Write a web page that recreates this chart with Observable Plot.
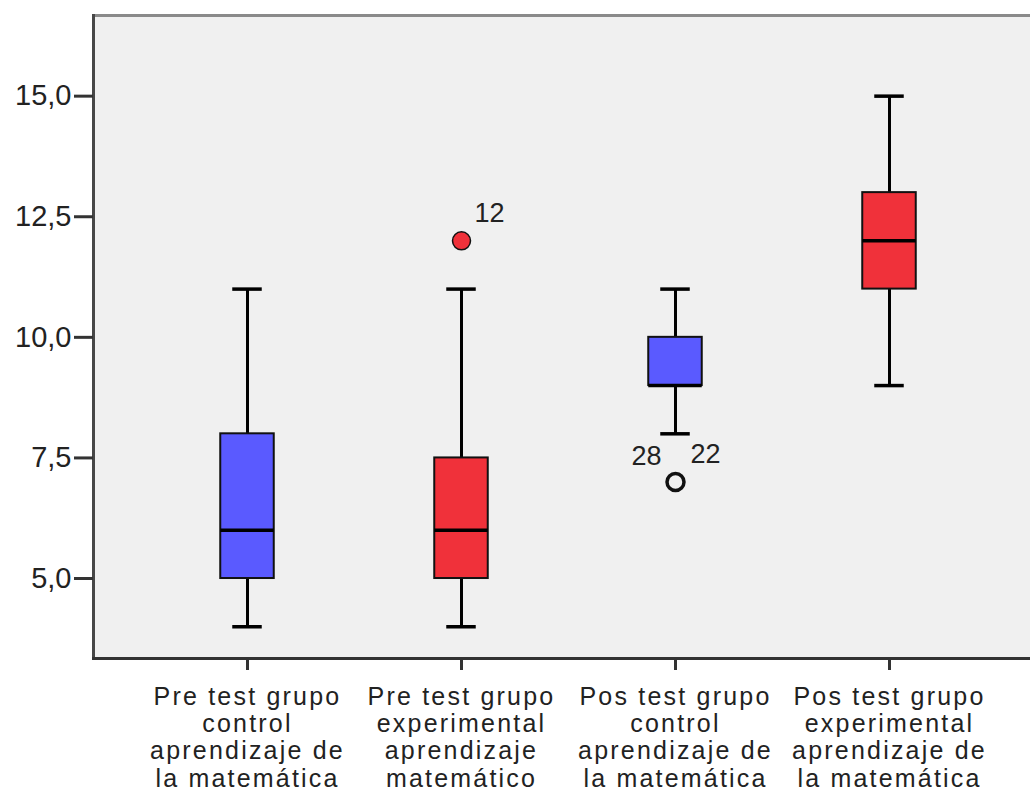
<!DOCTYPE html>
<html>
<head>
<meta charset="utf-8">
<script src="https://cdn.jsdelivr.net/npm/d3@7"></script>
<script src="https://cdn.jsdelivr.net/npm/@observablehq/plot@0.6"></script>
<style>
  html, body { margin: 0; padding: 0; background: #ffffff; overflow: hidden; }
  #chart svg { display: block; font-family: "Liberation Sans", Arial, sans-serif; }
  #chart g[aria-label="x-axis tick label"] text { letter-spacing: 2.2px; }
</style>
</head>
<body>
<div id="chart"></div>
<script>
// ---- data ----
const categories = [
  "Pre test grupo\ncontrol\naprendizaje de\nla matemática",
  "Pre test grupo\nexperimental\naprendizaje\nmatemático",
  "Pos test grupo\ncontrol\naprendizaje de\nla matemática",
  "Pos test grupo\nexperimental\naprendizaje de\nla matemática"
];
const groupType = ["control", "experimental", "control", "experimental"];
const whiskerLow  = [4, 4, 8, 9];
const q1          = [5, 5, 9, 11];
const median      = [6, 6, 9, 12];
const q3          = [8, 7.5, 10, 13];
const whiskerHigh = [11, 11, 11, 15];

const outlierGroup = [1, 2];      // index into categories
const outlierValue = [12, 7];
const outlierKind  = ["outlier", "outlier-open"];
const outlierIds   = ["12", "28", "22"];
const outlierIdGroup = [1, 2, 2];
const outlierIdValue = [12, 7, 7];

const yTicks = [5, 7.5, 10, 12.5, 15];

const palette = { control: "#5a5aff", experimental: "#f0313a" };

const boxes = categories.map((c, i) => ({
  cat: c, lo: whiskerLow[i], q1: q1[i], med: median[i], q3: q3[i], hi: whiskerHigh[i],
  fill: palette[groupType[i]]
}));
const outliers = outlierGroup.map((g, i) => ({
  cat: categories[g], value: outlierValue[i], kind: outlierKind[i], fill: palette[groupType[g]]
}));
const idLabels = outlierIds.map((t, i) => ({
  cat: categories[outlierIdGroup[i]], value: outlierIdValue[i], text: t
}));

const bandW = (997 - 139) / 4;
const boxInset = (bandW - 54) / 2;
const capInset = (bandW - 30) / 2;

const chart = Plot.plot({
  width: 1030,
  height: 792,
  marginLeft: 93,
  marginRight: -4,
  marginTop: 15,
  marginBottom: 134,
  style: { background: "#ffffff", color: "#222", fontFamily: "Liberation Sans, Arial, sans-serif", overflow: "hidden" },
  x: { type: "band", domain: categories, insetLeft: 46, insetRight: 37, padding: 0, label: null },
  y: { domain: [3.342, 16.672], label: null },
  color: { type: "identity" },
  marks: [
    Plot.frame({ fill: "#f0f0f0", stroke: "none" }),
    Plot.frame({ anchor: "top", stroke: "#8a8a8a", strokeWidth: 3 }),
    Plot.frame({ anchor: "left", stroke: "#474747", strokeWidth: 3 }),
    Plot.frame({ anchor: "bottom", stroke: "#333333", strokeWidth: 3 }),
    Plot.axisY({
      ticks: yTicks,
      tickFormat: d => d.toFixed(1).replace(".", ","),
      tickSize: 19, tickPadding: 3, fontSize: 29,
      stroke: "#333", strokeWidth: 3, label: null
    }),
    Plot.axisX({
      tickSize: 12, tickPadding: 15, fontSize: 25, lineHeight: 1.09,
      stroke: "#333", strokeWidth: 3, label: null
    }),
    Plot.ruleX(boxes, { x: "cat", y1: "lo", y2: "hi", stroke: "black", strokeWidth: 3 }),
    Plot.tickY(boxes, { x: "cat", y: "lo", stroke: "black", strokeWidth: 3.5, insetLeft: capInset, insetRight: capInset }),
    Plot.tickY(boxes, { x: "cat", y: "hi", stroke: "black", strokeWidth: 3.5, insetLeft: capInset, insetRight: capInset }),
    Plot.barY(boxes, { x: "cat", y1: "q1", y2: "q3", fill: "fill", stroke: "#111", strokeWidth: 2, insetLeft: boxInset, insetRight: boxInset }),
    Plot.tickY(boxes, { x: "cat", y: "med", stroke: "black", strokeWidth: 3.5, insetLeft: boxInset, insetRight: boxInset }),
    Plot.dot(outliers.filter(d => d.kind === "outlier"), { x: "cat", y: "value", r: 9, fill: "fill", stroke: "#111", strokeWidth: 1.5 }),
    Plot.dot(outliers.filter(d => d.kind === "outlier-open"), { x: "cat", y: "value", r: 8.5, fill: "none", stroke: "#111", strokeWidth: 3.5 }),
    Plot.text(idLabels.filter((d, i) => i === 0), { x: "cat", y: "value", text: "text", dx: 28, dy: -28, fontSize: 27, fill: "#222" }),
    Plot.text(idLabels.filter((d, i) => i === 1), { x: "cat", y: "value", text: "text", dx: -29, dy: -26, fontSize: 27, fill: "#222" }),
    Plot.text(idLabels.filter((d, i) => i === 2), { x: "cat", y: "value", text: "text", dx: 30, dy: -28, fontSize: 27, fill: "#222" })
  ]
});
document.getElementById("chart").appendChild(chart);
</script>
</body>
</html>
